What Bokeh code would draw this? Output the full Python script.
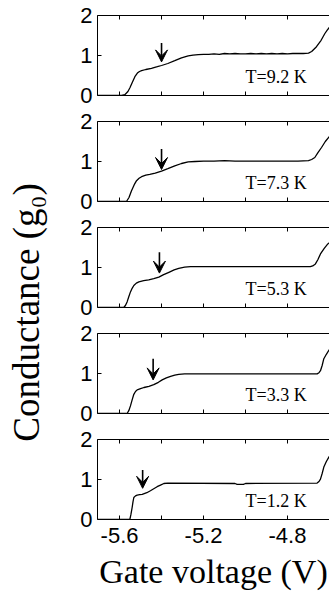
from bokeh.plotting import figure
from bokeh.models import LinearAxis, FixedTicker, Range1d, Arrow, VeeHead, Label
from bokeh.layouts import row, column
from bokeh.embed import file_html
from bokeh.resources import INLINE

# ---------------- data ----------------
temps = ["T=9.2 K", "T=7.3 K", "T=5.3 K", "T=3.3 K", "T=1.2 K"]

pts_92 = [(-5.705, 0), (-5.59, 0), (-5.575, 0.02), (-5.56, 0.10), (-5.55, 0.20), (-5.54, 0.32),
          (-5.527, 0.47), (-5.515, 0.56), (-5.505, 0.60), (-5.495, 0.62), (-5.475, 0.65), (-5.448, 0.68),
          (-5.42, 0.72), (-5.40, 0.75), (-5.37, 0.80), (-5.337, 0.87), (-5.305, 0.94), (-5.273, 0.99),
          (-5.25, 1.01), (-5.225, 1.02), (-5.20, 1.03), (-5.175, 1.03), (-5.15, 1.04), (-5.125, 1.03),
          (-5.10, 1.05), (-5.075, 1.04), (-5.05, 1.05), (-5.025, 1.04), (-5.00, 1.04), (-4.975, 1.05),
          (-4.95, 1.04), (-4.925, 1.05), (-4.90, 1.04), (-4.875, 1.05), (-4.85, 1.04), (-4.825, 1.05),
          (-4.80, 1.04), (-4.775, 1.05), (-4.75, 1.05), (-4.725, 1.05), (-4.70, 1.06), (-4.685, 1.10),
          (-4.662, 1.22), (-4.64, 1.38), (-4.622, 1.55), (-4.61, 1.64), (-4.598, 1.72)]

pts_73 = [(-5.705, 0), (-5.567, 0), (-5.555, 0.10), (-5.543, 0.27), (-5.53, 0.42), (-5.519, 0.52),
          (-5.507, 0.58), (-5.495, 0.62), (-5.475, 0.66), (-5.456, 0.68), (-5.43, 0.71), (-5.40, 0.76),
          (-5.37, 0.82), (-5.337, 0.89), (-5.305, 0.95), (-5.273, 0.99), (-5.24, 1.00), (-5.20, 1.01),
          (-5.15, 1.01), (-5.10, 1.02), (-5.05, 1.01), (-5.00, 1.01), (-4.95, 1.01), (-4.90, 1.01),
          (-4.85, 1.01), (-4.80, 1.01), (-4.75, 1.01), (-4.70, 1.02), (-4.685, 1.05), (-4.67, 1.10),
          (-4.655, 1.22), (-4.638, 1.35), (-4.62, 1.50), (-4.598, 1.64)]

pts_53 = [(-5.705, 0), (-5.58, 0), (-5.572, 0.05), (-5.564, 0.14), (-5.556, 0.27), (-5.548, 0.39),
          (-5.54, 0.48), (-5.532, 0.55), (-5.52, 0.61), (-5.508, 0.64), (-5.485, 0.67), (-5.461, 0.69),
          (-5.437, 0.72), (-5.413, 0.76), (-5.39, 0.82), (-5.365, 0.88), (-5.34, 0.94), (-5.318, 0.98),
          (-5.29, 1.01), (-5.262, 1.02), (-4.691, 1.02), (-4.68, 1.04), (-4.667, 1.09), (-4.655, 1.20),
          (-4.643, 1.34), (-4.625, 1.48), (-4.608, 1.59), (-4.598, 1.63)]

pts_33 = [(-5.705, 0), (-5.564, 0), (-5.556, 0.07), (-5.548, 0.19), (-5.54, 0.34), (-5.532, 0.48),
          (-5.524, 0.55), (-5.516, 0.59), (-5.50, 0.62), (-5.484, 0.65), (-5.46, 0.68), (-5.437, 0.72),
          (-5.415, 0.78), (-5.397, 0.84), (-5.377, 0.89), (-5.357, 0.93), (-5.337, 0.96), (-5.318, 0.98),
          (-5.29, 0.99), (-4.659, 0.99), (-4.65, 1.02), (-4.643, 1.07), (-4.635, 1.20), (-4.627, 1.37),
          (-4.615, 1.48), (-4.603, 1.58), (-4.598, 1.61)]

pts_12 = [(-5.705, 0), (-5.551, 0), (-5.546, 0.12), (-5.54, 0.30), (-5.536, 0.44), (-5.532, 0.55),
          (-5.524, 0.59), (-5.516, 0.61), (-5.504, 0.62), (-5.492, 0.63), (-5.47, 0.67), (-5.453, 0.72),
          (-5.437, 0.77), (-5.421, 0.82), (-5.405, 0.86), (-5.389, 0.90), (-5.37, 0.91), (-5.05, 0.90),
          (-5.04, 0.88), (-5.01, 0.88), (-5.00, 0.90), (-4.659, 0.91), (-4.65, 0.95), (-4.643, 1.01),
          (-4.635, 1.15), (-4.627, 1.31), (-4.615, 1.45), (-4.603, 1.56), (-4.598, 1.60)]

arrow_v = [-5.40, -5.40, -5.41, -5.44, -5.49]
arrow_tip = [0.84, 0.80, 0.86, 0.84, 0.78]
arrow_tail = [1.31, 1.31, 1.38, 1.37, 1.24]

x_ticks = [-5.6, -5.4, -5.2, -5.0, -4.8, -4.6]
x_tick_labels = ["-5.6", "", "-5.2", "", "-4.8", ""]
y_ticks = [0, 1, 2]
y_tick_labels = ["0", "1", "2"]
x_label = "Gate voltage (V)"
y_label = "Conductance (g\u2080)"

series = [pts_92, pts_73, pts_53, pts_33, pts_12]

# ---------------- layout constants ----------------
SANS = "Liberation Sans"
SERIF = "Liberation Serif"
LEFT_W = 50
PANEL_W = 329 - LEFT_W
X0, X1 = -5.705, -4.60


def hide_labels(ax):
    ax.major_label_text_color = None
    ax.major_label_text_alpha = 0
    ax.major_label_text_font_size = "1px"
    ax.major_label_standoff = 0


panels = []
for i, pts in enumerate(series):
    top = 15 if i == 0 else 13
    bottom = 78 if i == 4 else 13
    h = top + 80 + bottom
    p = figure(width=PANEL_W, height=h, x_range=Range1d(X0, X1), y_range=Range1d(0, 2),
               toolbar_location=None, output_backend="svg",
               min_border_left=47, min_border_right=0,
               min_border_top=top, min_border_bottom=bottom)
    p.outline_line_color = None
    p.grid.visible = False
    p.background_fill_color = "white"
    p.border_fill_color = "white"

    xa = p.xaxis[0]
    xa.ticker = FixedTicker(ticks=x_ticks, minor_ticks=[])
    xa.major_tick_in = 4
    xa.major_tick_out = 0
    xa.minor_tick_line_color = None
    xa.axis_line_color = "black"
    xa.major_tick_line_color = "black"
    if i == 4:
        xa.major_label_overrides = {t: s for t, s in zip(x_ticks, x_tick_labels)}
        xa.major_label_text_font = SANS
        xa.major_label_text_font_size = "22px"
        xa.major_label_text_color = "black"
        xa.major_label_standoff = 8
        xa.axis_label = x_label
        xa.axis_label_text_font = SERIF
        xa.axis_label_text_font_size = "34px"
        xa.axis_label_text_font_style = "normal"
        xa.axis_label_text_color = "black"
        xa.axis_label_standoff = 7
    else:
        hide_labels(xa)

    ya = p.yaxis[0]
    ya.ticker = FixedTicker(ticks=y_ticks, minor_ticks=[])
    ya.major_label_overrides = {t: s for t, s in zip(y_ticks, y_tick_labels)}
    ya.major_tick_in = 4
    ya.major_tick_out = 0
    ya.minor_tick_line_color = None
    ya.major_label_text_font = SANS
    ya.major_label_text_font_size = "22px"
    ya.major_label_text_color = "black"
    ya.major_label_standoff = 5

    top_ax = LinearAxis(ticker=FixedTicker(ticks=x_ticks, minor_ticks=[]),
                        major_tick_in=4, major_tick_out=0, minor_tick_line_color=None,
                        axis_line_color="black")
    hide_labels(top_ax)
    p.add_layout(top_ax, "above")

    vs = [a for a, b in pts]
    gs = [b for a, b in pts]
    p.line(vs, gs, line_color="black", line_width=1.3)

    p.add_layout(Arrow(end=VeeHead(size=12, fill_color="black", line_color="black"),
                       x_start=arrow_v[i], y_start=arrow_tail[i],
                       x_end=arrow_v[i], y_end=arrow_tip[i],
                       line_color="black", line_width=1.6))
    p.add_layout(Label(x=-5.0, y=0.47, text=temps[i], text_font=SERIF, text_font_size="18px",
                       text_align="left", text_baseline="middle", text_color="black"))
    panels.append(p)

# y label strip
yfig = figure(width=LEFT_W, height=597, x_range=Range1d(0, LEFT_W), y_range=Range1d(0, 597),
              toolbar_location=None, output_backend="svg", min_border=0,
              x_axis_type=None, y_axis_type=None)
yfig.outline_line_color = None
yfig.grid.visible = False
yfig.add_layout(Label(x=26, y=597 - 312, text=y_label, text_font=SERIF, text_font_size="37px",
                      angle=90, angle_units="deg", text_align="center", text_baseline="middle",
                      text_color="black"))

layout = row(yfig, column(*panels, spacing=0), spacing=0)
open("out.html", "w").write(file_html(layout, INLINE))
